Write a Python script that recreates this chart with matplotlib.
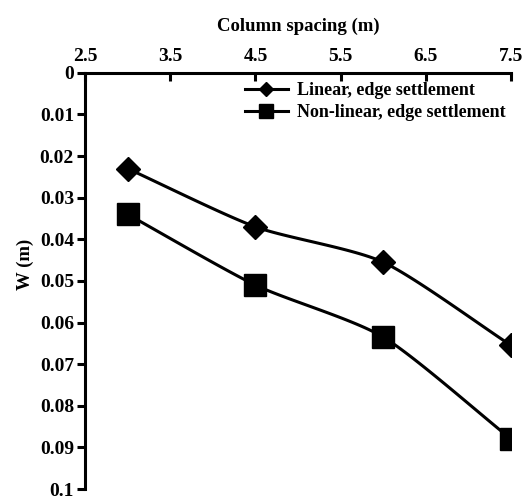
import numpy as np
import matplotlib.pyplot as plt

plt.rcParams['font.family'] = ['Liberation Serif', 'DejaVu Serif']
plt.rcParams['font.weight'] = 'bold'

spacing = [3.0, 4.5, 6.0, 7.5]
w_linear = [0.023, 0.037, 0.0455, 0.0655]
w_nonlinear = [0.034, 0.051, 0.0635, 0.088]
x_ticks = [2.5, 3.5, 4.5, 5.5, 6.5, 7.5]
y_ticks = [0, 0.01, 0.02, 0.03, 0.04, 0.05, 0.06, 0.07, 0.08, 0.09, 0.1]
y_labels = ['0', '0.01', '0.02', '0.03', '0.04', '0.05', '0.06', '0.07', '0.08', '0.09', '0.1']


def smooth(x, y, n=30, tension=0.35):
    # cardinal spline through the points, just for drawing
    x = np.asarray(x)
    y = np.asarray(y)
    px = np.concatenate([[2 * x[0] - x[1]], x, [2 * x[-1] - x[-2]]])
    py = np.concatenate([[2 * y[0] - y[1]], y, [2 * y[-1] - y[-2]]])
    xs, ys = [], []
    t = np.linspace(0, 1, n)
    h00 = 2 * t ** 3 - 3 * t ** 2 + 1
    h10 = t ** 3 - 2 * t ** 2 + t
    h01 = -2 * t ** 3 + 3 * t ** 2
    h11 = t ** 3 - t ** 2
    for i in range(1, len(px) - 2):
        for p, out in ((px, xs), (py, ys)):
            m1 = tension * (p[i + 1] - p[i - 1])
            m2 = tension * (p[i + 2] - p[i])
            out.extend(h00 * p[i] + h10 * m1 + h01 * p[i + 1] + h11 * m2)
    return xs, ys


fig = plt.figure(figsize=(5.28, 4.99), dpi=100)
ax = fig.add_axes([0.161, 0.02, 0.807, 0.834])

for xs, ws, mk, ms, lab in [(spacing, w_linear, 'D', 12, 'Linear, edge settlement'),
                            (spacing, w_nonlinear, 's', 16, 'Non-linear, edge settlement')]:
    cx, cy = smooth(xs, ws)
    ax.plot(cx, cy, color='black', lw=2.2, zorder=2)
    ax.plot(xs, ws, ls='none', marker=mk, ms=ms, color='black', zorder=3)
    ax.plot([], [], color='black', lw=2.2, marker=mk, ms=ms * 0.6, label=lab)

ax.set_xlim(2.5, 7.5)
ax.set_ylim(0.1, 0)
ax.set_xticks(x_ticks)
ax.set_yticks(y_ticks)
ax.set_yticklabels(y_labels)
ax.xaxis.tick_top()
ax.xaxis.set_label_position('top')
ax.set_xlabel('Column spacing (m)', fontsize=13.5, fontweight='bold', labelpad=12)
ax.set_ylabel('W (m)', fontsize=13.5, fontweight='bold', labelpad=8)
ax.yaxis.set_label_coords(-0.12, 0.54)

for side in ['right', 'bottom']:
    ax.spines[side].set_visible(False)
for side in ['left', 'top']:
    ax.spines[side].set_linewidth(2.2)
ax.tick_params(axis='x', direction='in', length=6, width=2.2, labelsize=14, pad=6)
ax.tick_params(axis='y', direction='out', length=6, width=2.2, labelsize=14, pad=2)

ax.legend(loc='upper right', frameon=False, handlelength=2.4,
          bbox_to_anchor=(1.0, 0.99),
          borderaxespad=0.0, borderpad=0.3, labelspacing=0.25, handletextpad=0.5,
          prop={'weight': 'bold', 'size': 13})

fig.savefig('out.png', dpi=100)
